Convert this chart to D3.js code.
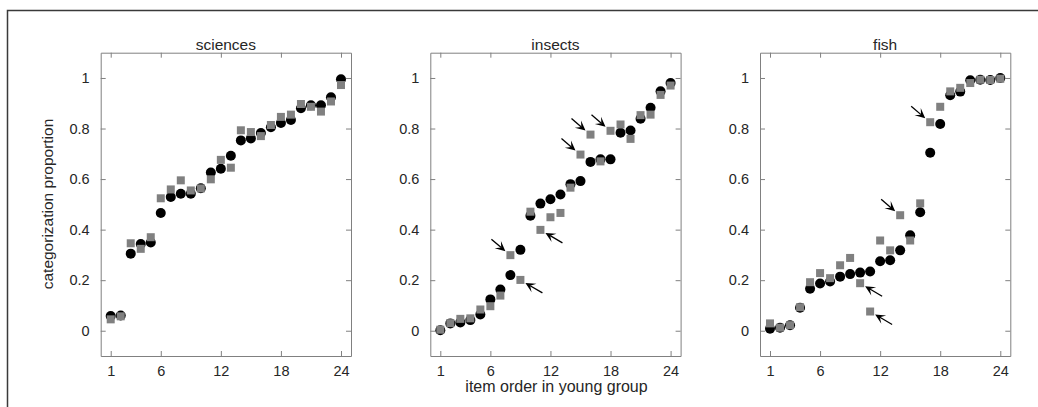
<!DOCTYPE html>
<html>
<head>
<meta charset="utf-8">
<script src="https://cdn.jsdelivr.net/npm/d3@7"></script>
<style>
  body { margin: 0; background: #fff; }
  svg { display: block; font-family: "Liberation Sans", Arial, sans-serif; }
  .tick text { fill: #262626; font-size: 14.5px; }
</style>
</head>
<body>
<svg id="chart" width="1038" height="407"></svg>
<script>
// item order 1..24
const items = d3.range(1, 25);
const xTicks = [1, 6, 12, 18, 24];
const yTicks = [0, 0.2, 0.4, 0.6, 0.8, 1];
const panelTitles = ["sciences", "insects", "fish"];

// black circles (young group)
const sciencesYoung = [0.058, 0.06, 0.305, 0.343, 0.349, 0.466, 0.529, 0.542, 0.542, 0.564, 0.626, 0.641,
  0.692, 0.753, 0.761, 0.782, 0.805, 0.822, 0.834, 0.88, 0.892, 0.892, 0.924, 0.995];
const insectsYoung = [0.002, 0.029, 0.033, 0.042, 0.064, 0.124, 0.163, 0.22, 0.32, 0.455, 0.503, 0.52,
  0.539, 0.58, 0.592, 0.668, 0.678, 0.678, 0.783, 0.792, 0.839, 0.882, 0.947, 0.98];
const fishYoung = [0.008, 0.012, 0.022, 0.091, 0.166, 0.187, 0.195, 0.214, 0.224, 0.23, 0.234, 0.275,
  0.279, 0.318, 0.378, 0.469, 0.704, 0.818, 0.932, 0.946, 0.991, 0.993, 0.992, 1.0];

// gray squares (old group)
const sciencesOld = [0.045, 0.057, 0.346, 0.324, 0.37, 0.524, 0.559, 0.595, 0.555, 0.563, 0.599, 0.676,
  0.645, 0.793, 0.786, 0.77, 0.814, 0.846, 0.855, 0.897, 0.886, 0.867, 0.907, 0.972];
const insectsOld = [0.004, 0.03, 0.047, 0.049, 0.084, 0.097, 0.139, 0.299, 0.201, 0.471, 0.399, 0.449,
  0.466, 0.566, 0.697, 0.776, 0.67, 0.791, 0.816, 0.759, 0.853, 0.855, 0.933, 0.97];
const fishOld = [0.029, 0.012, 0.022, 0.093, 0.192, 0.228, 0.208, 0.259, 0.288, 0.188, 0.076, 0.357,
  0.318, 0.457, 0.357, 0.504, 0.825, 0.886, 0.947, 0.961, 0.98, 0.993, 0.992, 0.997];

// arrows pointing at squares: "ul" = coming from upper left, "lr" = from lower right
const sciencesArrows = [];
const insectsArrows = [[8, "ul"], [9, "lr"], [11, "lr"], [15, "ul"], [16, "ul"], [18, "ul"]];
const fishArrows = [[10, "lr"], [11, "lr"], [14, "ul"], [17, "ul"]];

const youngSeries = [sciencesYoung, insectsYoung, fishYoung];
const oldSeries = [sciencesOld, insectsOld, fishOld];
const arrowSets = [sciencesArrows, insectsArrows, fishArrows];

// layout
const panelLeft = [100.7, 430.3, 760];
const panelW = 250.3;
const plotTop = 52.7, plotBottom = 356;
const axisColor = "#808080";

const svg = d3.select("#chart");

// outer frame (only top and left edges visible)
svg.append("path")
  .attr("d", "M7.5,407 L7.5,10.5 L1038,10.5")
  .attr("fill", "none")
  .attr("stroke", "#3a3a3a")
  .attr("stroke-width", 1.5);

const y = d3.scaleLinear().domain([-0.1, 1.1]).range([plotBottom, plotTop]);

panelTitles.forEach((title, p) => {
  const x = d3.scaleLinear().domain([0, 25]).range([panelLeft[p], panelLeft[p] + panelW]);
  const g = svg.append("g");

  // axes: ticks point inward on all four sides
  const axB = g.append("g").attr("transform", `translate(0,${plotBottom})`)
    .call(d3.axisBottom(x).tickValues(xTicks).tickSize(-5).tickPadding(10).tickSizeOuter(0));
  const axT = g.append("g").attr("transform", `translate(0,${plotTop})`)
    .call(d3.axisTop(x).tickValues(xTicks).tickSize(-5).tickFormat("").tickSizeOuter(0));
  const axL = g.append("g").attr("transform", `translate(${panelLeft[p]},0)`)
    .call(d3.axisLeft(y).tickValues(yTicks).tickSize(-5).tickPadding(11).tickSizeOuter(0)
      .tickFormat(d => d3.format("")(d)));
  const axR = g.append("g").attr("transform", `translate(${panelLeft[p] + panelW},0)`)
    .call(d3.axisRight(y).tickValues(yTicks).tickSize(-5).tickFormat("").tickSizeOuter(0));
  [axB, axT, axL, axR].forEach(a => {
    a.selectAll("line").attr("stroke", axisColor);
    a.select(".domain").attr("stroke", axisColor);
    a.attr("font-size", null).attr("font-family", null);
  });

  g.append("text")
    .attr("x", panelLeft[p] + panelW / 2)
    .attr("y", 49.5)
    .attr("text-anchor", "middle")
    .attr("fill", "#262626")
    .style("font-size", "15.5px")
    .text(title);

  // black circles first, gray squares on top
  g.append("g").selectAll("circle")
    .data(items)
    .join("circle")
    .attr("cx", d => x(d))
    .attr("cy", (d, i) => y(youngSeries[p][i]))
    .attr("r", 5)
    .attr("fill", "#000");

  const sq = 8;
  g.append("g").selectAll("rect")
    .data(items)
    .join("rect")
    .attr("x", d => x(d) - sq / 2)
    .attr("y", (d, i) => y(oldSeries[p][i]) - sq / 2)
    .attr("width", sq)
    .attr("height", sq)
    .attr("fill", "#808080");

  // arrows
  arrowSets[p].forEach(([item, dir]) => {
    const cx = x(item), cy = y(oldSeries[p][item - 1]);
    let tip, tail;
    if (dir === "ul") {
      tip = [cx - 5, cy - 4];
      tail = [cx - 19, cy - 16];
    } else {
      tip = [cx + 5, cy + 3];
      tail = [cx + 22, cy + 13];
    }
    drawArrow(g, tip, tail);
  });
});

function drawArrow(g, tip, tail) {
  const dx = tip[0] - tail[0], dy = tip[1] - tail[1];
  const len = Math.hypot(dx, dy);
  const ux = dx / len, uy = dy / len;
  const px = -uy, py = ux;
  const hl = 10, hw = 4.8, back = 5.5;
  const b1 = [tip[0] - ux * hl + px * hw, tip[1] - uy * hl + py * hw];
  const b2 = [tip[0] - ux * hl - px * hw, tip[1] - uy * hl - py * hw];
  const notch = [tip[0] - ux * back, tip[1] - uy * back];
  g.append("line")
    .attr("x1", tail[0]).attr("y1", tail[1])
    .attr("x2", notch[0]).attr("y2", notch[1])
    .attr("stroke", "#000").attr("stroke-width", 1.3);
  g.append("path")
    .attr("d", `M${tip}L${b1}L${notch}L${b2}Z`)
    .attr("fill", "#000");
}

// axis labels
svg.append("text")
  .attr("transform", "translate(53,204) rotate(-90)")
  .attr("text-anchor", "middle")
  .attr("fill", "#262626")
  .style("font-size", "15.5px")
  .text("categorization proportion");

svg.append("text")
  .attr("x", 556.5)
  .attr("y", 392)
  .attr("text-anchor", "middle")
  .attr("fill", "#262626")
  .style("font-size", "16px")
  .text("item order in young group");
</script>
</body>
</html>
